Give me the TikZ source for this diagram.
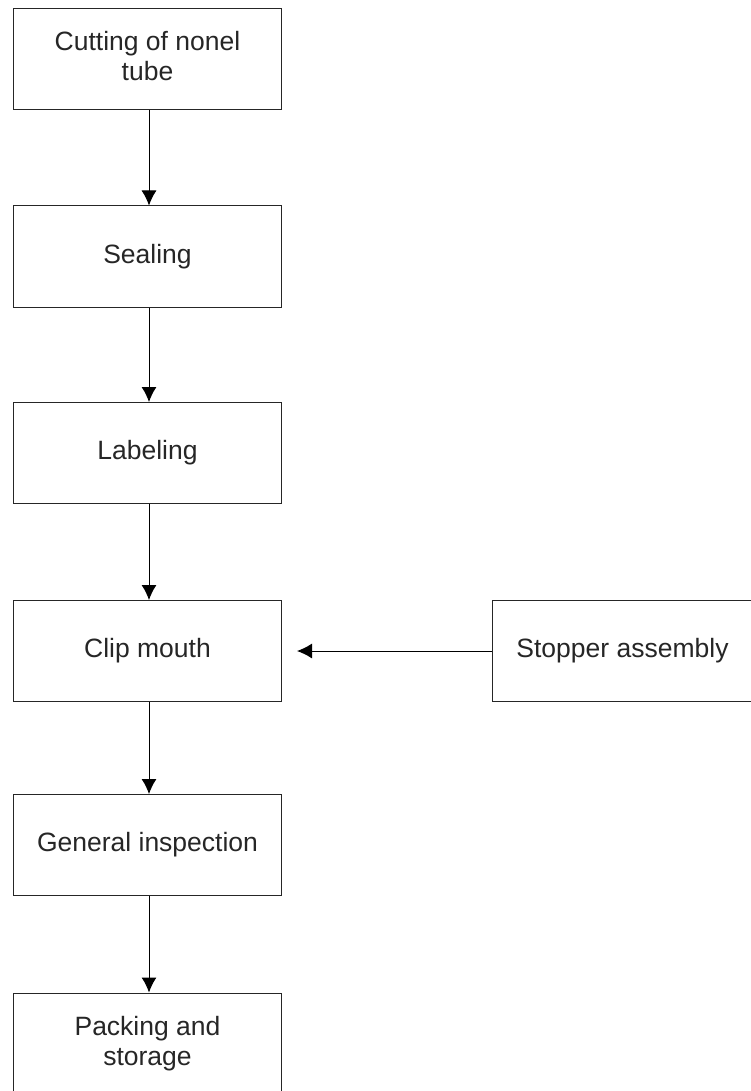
\documentclass[tikz,border=0pt]{standalone}
\usepackage{fontspec}
\setmainfont{Liberation Sans}
\usetikzlibrary{positioning}
\usetikzlibrary{arrows.meta}
\colorlet{stepborderc}{black!85}
\colorlet{steptextc}{black!85}

\begin{document}
\begin{tikzpicture}[x=1pt,y=-1pt,
  stepbox/.style={draw=stepborderc, line width=1pt, shape=rectangle, minimum width=268pt, minimum height=101pt, align=center, font=\fontsize{26.5}{29.5}\selectfont, text=steptextc, inner sep=0pt},
  flow/.style={draw=black, line width=1pt, -{Latex[length=15pt,width=15pt]}}]
\clip (0,0) rectangle (751,1091);

\node[stepbox] (cut) at (147.5,59.5) {\raisebox{6pt}{\begin{tabular}{@{}c@{}}Cutting of nonel\\tube\end{tabular}}};
\node[stepbox] (seal) at (147.5,256.5) {Sealing};
\node[stepbox] (label) at (147.5,453) {Labeling};
\node[stepbox] (clip) at (147.5,651) {Clip mouth};
\node[stepbox] (inspect) at (147.5,845) {General inspection};
\node[stepbox] (pack) at (147.5,1043.5) {Packing and\\storage};

\node[stepbox, minimum width=261pt] (stopper) at (622.5,651) {Stopper assembly};
\coordinate (stopin) at (297,651);

\draw[flow] (cut.south -| 149,0) -- (seal.north -| 149,0);
\draw[flow] (seal.south -| 149,0) -- (label.north -| 149,0);
\draw[flow] (label.south -| 149,0) -- (clip.north -| 149,0);
\draw[flow] (clip.south -| 149,0) -- (inspect.north -| 149,0);
\draw[flow] (inspect.south -| 149,0) -- (pack.north -| 149,0);
\draw[flow] (stopper.west) -- (stopin);

\end{tikzpicture}
\end{document}
